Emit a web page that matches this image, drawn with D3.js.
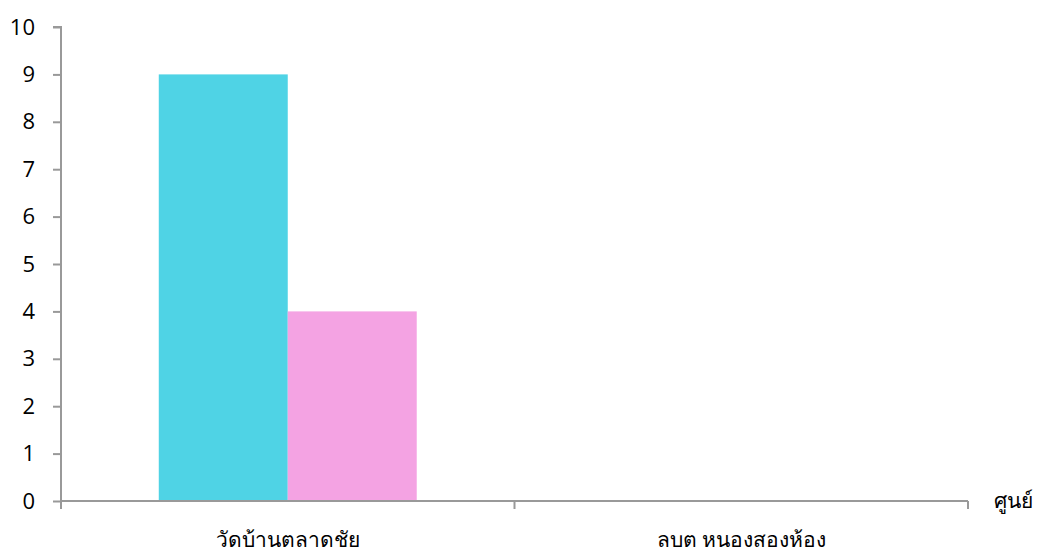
<!DOCTYPE html>
<html><head><meta charset="utf-8">
<script src="https://cdn.jsdelivr.net/npm/d3@7"></script>
<style>body{margin:0;background:#fff}svg{display:block}text{fill:#000}</style>
</head><body><svg id="c" width="1042" height="554"></svg>
<script>
const categories = ["วัดบ้านตลาดชัย", "ลบต หนองสองห้อง"];
const seriesA = [9, 0];
const seriesB = [4, 0];
const yTicks = [0,1,2,3,4,5,6,7,8,9,10];
const axisTitle = "ศูนย์";
const colors = ["#4FD3E5", "#F4A3E3"];

const svg = d3.select("#c");
const x = d3.scaleBand().domain(categories).range([61, 968]).paddingInner(0).paddingOuter(0);
const y = d3.scaleLinear().domain([0, 10]).range([501, 27]);
const inner = d3.scaleBand().domain([0,1]).range([0, x.bandwidth()]).paddingOuter(0.758).paddingInner(0);

const g = svg.append("g");
const series = [seriesA, seriesB];
series.forEach((s, si) => {
  g.selectAll(".b" + si).data(categories).enter().append("rect")
    .attr("x", d => x(d) + inner(si))
    .attr("width", inner.bandwidth())
    .attr("y", (d, i) => y(s[i]))
    .attr("height", (d, i) => y(0) - y(s[i]))
    .attr("fill", colors[si]);
});

const yAxis = d3.axisLeft(y).tickValues(yTicks).tickSize(8).tickPadding(18).tickFormat(d3.format("d"));
const ya = svg.append("g").attr("transform", "translate(61,0)").call(yAxis);
ya.select(".domain").attr("stroke", "#999").attr("stroke-width", 2).attr("d", "M-8,27H0V509");
ya.selectAll(".tick line").attr("stroke", "#999").attr("stroke-width", 2);
ya.selectAll(".tick text").style("font-size", "22px").style("font-family", "'Open Sans','Noto Sans',sans-serif").style("fill", "#000");

const xa = svg.append("g").attr("transform", "translate(0,501)");
xa.append("line").attr("x1", 61).attr("x2", 968).attr("y1", 0).attr("y2", 0).attr("stroke", "#999").attr("stroke-width", 2);
const edges = [61, ...categories.map(c => x(c) + x.bandwidth())];
xa.selectAll(".xl").data(categories).enter().append("text")
  .attr("x", d => x(d) + x.bandwidth()/2).attr("y", 46)
  .attr("text-anchor", "middle")
  .style("font-family", "'Noto Sans',sans-serif").style("font-size", "21px").text(d => d);
xa.selectAll(".xt").data(edges).enter().append("line")
  .attr("x1", d => d).attr("x2", d => d).attr("y1", 0).attr("y2", 8)
  .attr("stroke", "#999").attr("stroke-width", 2);

svg.append("text").attr("x", 994).attr("y", 508)
  .style("font-family", "'Noto Sans',sans-serif").style("font-size", "21px").text(axisTitle);
</script></body></html>
